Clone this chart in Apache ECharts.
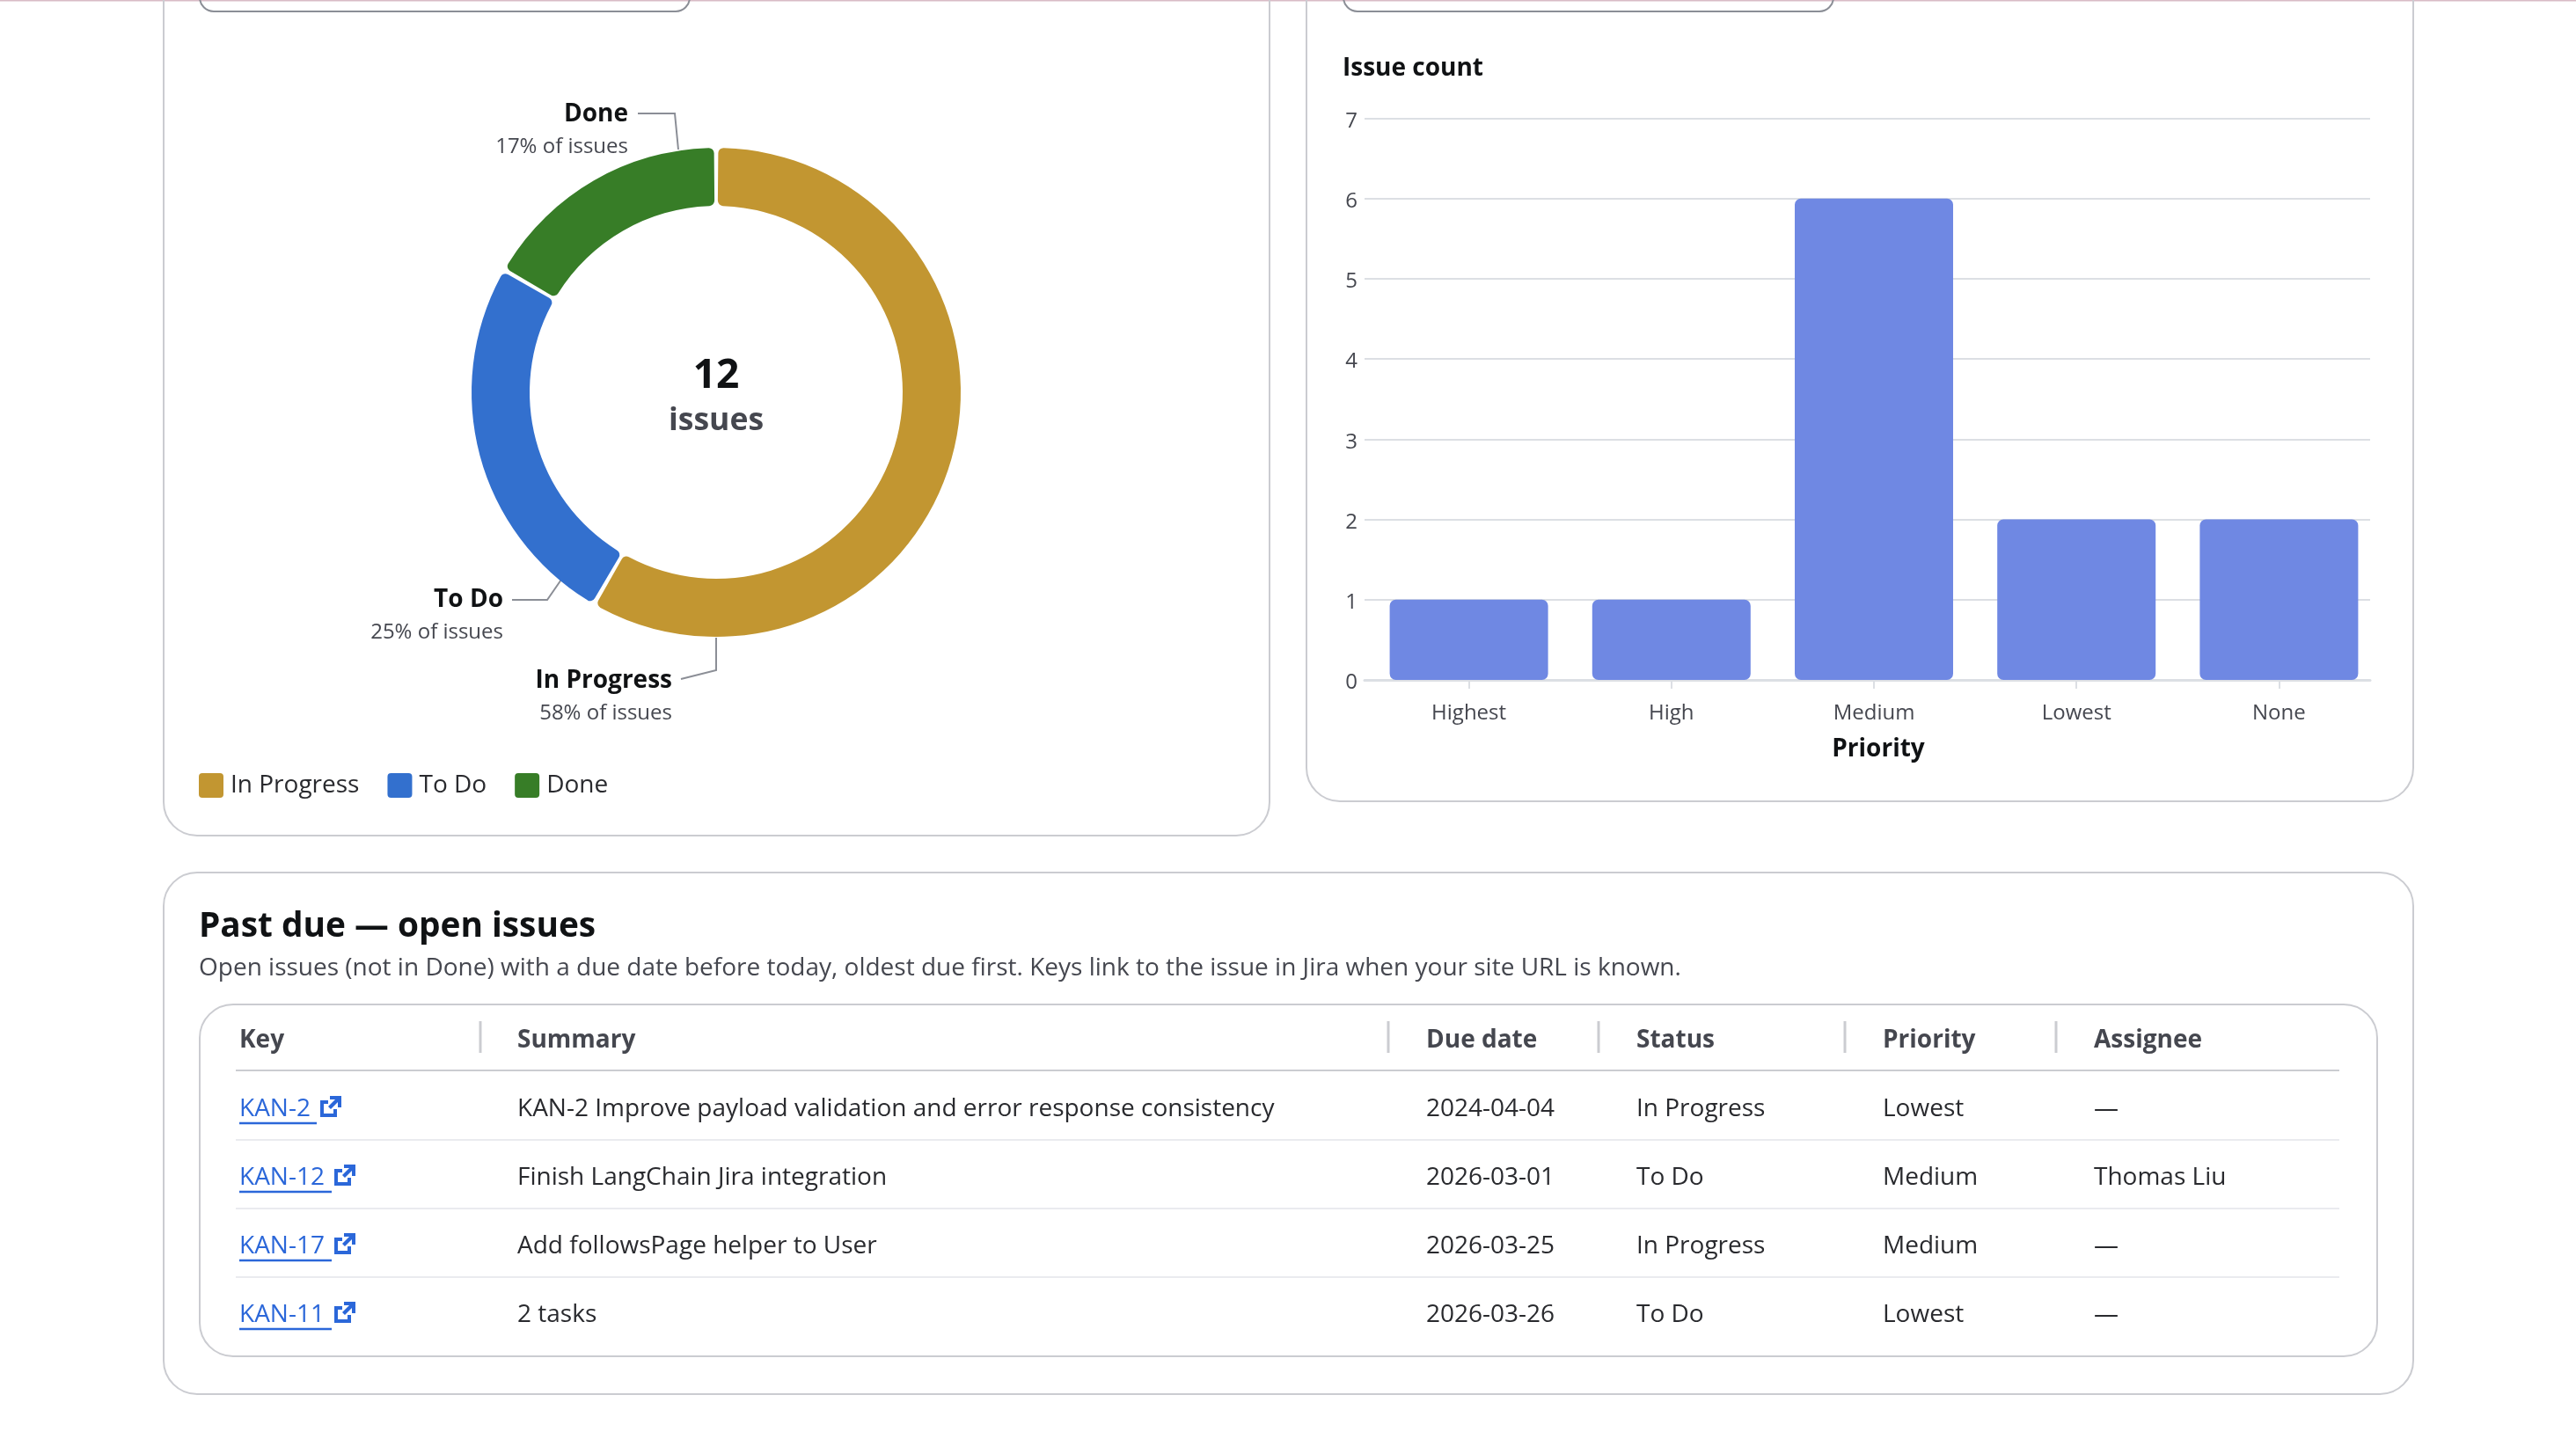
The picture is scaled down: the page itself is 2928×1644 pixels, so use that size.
<!DOCTYPE html>
<html><head><meta charset="utf-8">
<style>html,body{margin:0;padding:0;background:#fff}#c{width:2928px;height:1644px}</style>
<script src="https://cdn.jsdelivr.net/npm/echarts@6/dist/echarts.min.js"></script>
</head><body><div id="c"></div>
<script>
const statusNames = ['In Progress','To Do','Done'];
const statusCounts = [7,3,2];
const statusPercents = ['58%','25%','17%'];
const statusColors = ['#C29631','#3370CE','#377D27'];
const totalIssues = '12';
const priorities = ['Highest','High','Medium','Lowest','None'];
const priorityCounts = [1,1,6,2,2];
const tableHeaders = ['Key','Summary','Due date','Status','Priority','Assignee'];
const tableKeys = ['KAN-2','KAN-12','KAN-17','KAN-11'];
const tableSummaries = ['KAN-2 Improve payload validation and error response consistency','Finish LangChain Jira integration','Add followsPage helper to User','2 tasks'];
const tableDue = ['2024-04-04','2026-03-01','2026-03-25','2026-03-26'];
const tableStatus = ['In Progress','To Do','In Progress','To Do'];
const tablePriority = ['Lowest','Medium','Medium','Lowest'];
const tableAssignee = ['—','Thomas Liu','—','—'];

const FONT='"Open Sans","Noto Sans",sans-serif';
const INK='#101214', BODY='#292A2E', SUB='#45474F', BORDER='#CBCCD1', LINK='#2B67D9';
const g=[];
const box=(x,y,w,h,r,stroke,lw)=>g.push({type:'rect',shape:{x,y,width:w,height:h,r},style:{fill:'none',stroke,lineWidth:lw||2},silent:true});
const line=(x1,y1,x2,y2,stroke,lw)=>g.push({type:'line',shape:{x1,y1,x2,y2},style:{stroke,lineWidth:lw||2},silent:true});
const poly=(points,stroke)=>g.push({type:'polyline',shape:{points},style:{stroke,lineWidth:2,fill:'none'},silent:true});
const txt=(x,y,text,size,weight,fill,align)=>g.push({type:'text',x,y,style:{text,font:`${weight} ${size}px ${FONT}`,fill,align:align||'left',verticalAlign:'middle'},silent:true});

line(0,0.5,2928,0.5,'#d9bcc6',2);
box(186,-60,1257,1010,38,BORDER);
box(1485,-60,1258,971,38,BORDER);
box(186,992,2557,593,38,BORDER);
box(227,-60,557,73,16,'#8b8e96');
box(1527,-60,557,73,16,'#8b8e96');
box(227,1142,2475,400,38,BORDER);

// donut centre and leaders
txt(814,428,totalIssues,46,700,INK,'center');
txt(814,479,'issues',35.5,700,SUB,'center');
poly([[725,129],[767,129],[771,170]],'#8b8e96');
poly([[582,682],[622,682],[640,656]],'#8b8e96');
poly([[774,772],[814,762],[814,725]],'#8b8e96');

// bar titles
txt(1526,78,'Issue count',28,700,INK);

// table
txt(226,1054,'Past due — open issues',38.8,700,INK);
txt(226,1101,'Open issues (not in Done) with a due date before today, oldest due first. Keys link to the issue in Jira when your site URL is known.',28,400,SUB);
const colX=[272,588,1621,1860,2140,2380], divX=[546,1578,1817,2097,2337], rowY=[1261,1339,1417,1495], sepY=[1296,1374,1452];
tableHeaders.forEach((h,i)=>txt(colX[i],1183,h,28,700,SUB));
divX.forEach(x=>line(x,1161,x,1197,BORDER,3));
line(268,1217,2659,1217,BORDER,2);
sepY.forEach(y=>line(268,y,2659,y,'#EAEBEF',2));
const iconParts=[[[0,5],[9,5],[9,9],[4,9],[4,20],[15,20],[15,15],[19,15],[19,24],[0,24]],
                 [[11,0],[24,0],[24,13],[20,13],[20,7],[12,15],[9,12],[17,4],[11,4]]];
tableKeys.forEach((k,i)=>{
  const y=rowY[i], ulW=k.length>5?105:88, ix=k.length>5?380:364;
  txt(272,y,k,28,400,LINK);
  line(272,y+16,272+ulW,y+16,LINK,2.5);
  iconParts.forEach(p=>g.push({type:'polygon',shape:{points:p.map(([a,b])=>[ix+a,y-15+b])},style:{fill:LINK},silent:true}));
  txt(colX[1],y,tableSummaries[i],28,400,BODY);
  txt(colX[2],y,tableDue[i],28,400,BODY);
  txt(colX[3],y,tableStatus[i],28,400,BODY);
  txt(colX[4],y,tablePriority[i],28,400,BODY);
  txt(colX[5],y,tableAssignee[i],28,400,BODY);
});

const labelPos={'In Progress':[764,793],'To Do':[572,701],'Done':[714,149]};
const chart=echarts.init(document.getElementById('c'),null,{renderer:'canvas',width:2928,height:1644});
const SWATCH='path://M4 0H24A4 4 0 0 1 28 4V24A4 4 0 0 1 24 28H4A4 4 0 0 1 0 24V4A4 4 0 0 1 4 0Z';
chart.setOption({
  animation:false,
  backgroundColor:'#fff',
  textStyle:{fontFamily:FONT},
  graphic:g,
  legend:{left:226,top:879,padding:0,orient:'horizontal',itemWidth:28,itemHeight:28,itemGap:32,icon:SWATCH,
    data:statusNames,selectedMode:false,textStyle:{fontFamily:FONT,fontSize:28,color:BODY,padding:[0,0,0,3]}},
  grid:[
    {left:1551,width:1143,top:134.5,height:638.5},
    {left:1554.5,width:1151,top:134.5,height:638.5}
  ],
  xAxis:[
    {type:'category',gridIndex:0,data:priorities,axisLabel:{show:false},axisTick:{show:false},
     axisLine:{lineStyle:{color:'#DCDFE4',width:3}}},
    {type:'category',gridIndex:1,data:priorities,axisLine:{show:false},
     axisTick:{show:true,length:10,alignWithLabel:true,lineStyle:{color:'#DCDFE4',width:2}},
     axisLabel:{fontFamily:FONT,fontSize:24,color:SUB,margin:26},
     name:'Priority',nameLocation:'middle',nameGap:65,
     nameTextStyle:{fontFamily:FONT,fontSize:28,fontWeight:700,color:INK,padding:[0,0,0,10]}}
  ],
  yAxis:[
    {type:'value',gridIndex:0,min:0,max:7,interval:1,axisLine:{show:false},axisTick:{show:false},
     axisLabel:{fontFamily:FONT,fontSize:24,color:SUB,margin:8,verticalAlign:'top',lineHeight:7},
     splitLine:{lineStyle:{color:'#DCDFE4',width:2}}},
    {type:'value',gridIndex:1,min:0,max:7,interval:1,show:false,splitLine:{show:false}}
  ],
  series:[
    {type:'bar',xAxisIndex:1,yAxisIndex:1,data:priorityCounts,barWidth:180,itemStyle:{color:'#6F88E3',borderRadius:7},z:3},
    {type:'pie',center:[814,446],radius:[212,278],startAngle:90,clockwise:true,padAngle:1,
     itemStyle:{borderRadius:6},
     data:statusNames.map((n,i)=>({name:n,value:statusCounts[i],itemStyle:{color:statusColors[i]},
       label:{formatter:`{a|${n}}\n{b|${statusPercents[i]} of issues}`}})),
     label:{show:true,position:'outside',rich:{
       a:{fontFamily:FONT,fontSize:28,fontWeight:700,color:INK,align:'right',lineHeight:36},
       b:{fontFamily:FONT,fontSize:24,color:SUB,align:'right',lineHeight:37}}},
     labelLine:{show:false},
     labelLayout:p=>{const n=statusNames[p.dataIndex];return {x:labelPos[n][0],y:labelPos[n][1],align:'right',verticalAlign:'middle'};}}
  ]
});
</script></body></html>
